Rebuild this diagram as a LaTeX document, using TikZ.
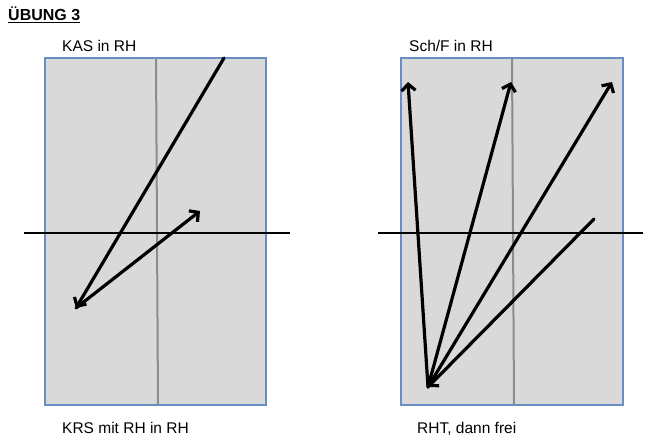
\documentclass[tikz,border=0pt]{standalone}
\usepackage{fontspec}
\setmainfont{Liberation Sans}
\usepackage{tikz}
\usetikzlibrary{positioning,arrows.meta}
\definecolor{fieldgray}{HTML}{D9D9D9}
\definecolor{fieldblue}{HTML}{6A8DC4}
\definecolor{midgray}{HTML}{8C8C8C}

\begin{document}
\begin{tikzpicture}[x=1pt,y=-1pt,
    field/.style={fill=fieldgray,draw=fieldblue,line width=1.8pt},
    midline/.style={draw=midgray,line width=2pt},
    crossline/.style={draw=black,line width=1.8pt},
    move/.style={line width=3.2pt,line cap=round,-{Straight Barb[length=6.5pt,width=14pt]}},
    caption/.style={anchor=base west,inner sep=0pt,font=\fontsize{15.5}{18}\selectfont}]
  \useasboundingbox (0,0) rectangle (650,441);

  % title
  \node[anchor=base west,inner sep=0pt,font=\fontsize{16}{19}\selectfont\bfseries]
    (title) at (8,20.5) {\underline{ÜBUNG 3}};

  % left panel
  \coordinate (LA) at (45,58);
  \coordinate (LB) at (266,405);
  \draw[field] (LA) rectangle (LB);
  \draw[midline] (156,58) -- (158,405);
  \draw[crossline] (24,233) -- (290,233);
  \node[caption] (kas) at (62,52) {KAS in RH};
  \node[caption] (krs) at (62,433) {KRS mit RH in RH};

  % left moves
  \coordinate (L1) at (224,58);
  \coordinate (L2) at (76,308);
  \coordinate (L3) at (200,211);
  \draw[move] (L1) -- (L2);
  \draw[move] (L2) -- (L3);

  % right panel
  \coordinate (RA) at (401,58);
  \coordinate (RB) at (623,405);
  \draw[field] (RA) rectangle (RB);
  \draw[midline] (512,58) -- (514,405);
  \draw[crossline] (378,233) -- (643,233);
  \node[caption] (sch) at (409,52) {Sch/F in RH};
  \node[caption] (rht) at (417,433) {RHT, dann frei};

  % right moves
  \coordinate (R0) at (428,387);
  \coordinate (R1) at (408,82);
  \coordinate (R2) at (511,82);
  \coordinate (R3) at (612,82);
  \coordinate (R4) at (594,219);
  \draw[move] (R0) -- (R1);
  \draw[move] (R0) -- (R2);
  \draw[move] (R0) -- (R3);
  \draw[move] (R4) -- (R0);
\end{tikzpicture}
\end{document}
